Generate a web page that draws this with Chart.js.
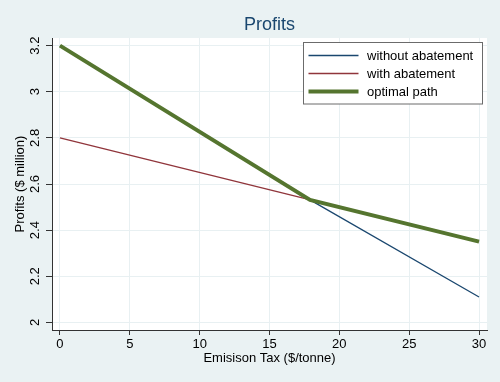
<!DOCTYPE html>
<html>
<head>
<meta charset="utf-8">
<script src="https://cdn.jsdelivr.net/npm/chart.js@4/dist/chart.umd.min.js"></script>
<style>
  html, body { margin: 0; padding: 0; background: #EAF2F3; }
  #wrap { width: 500px; height: 382px; }
</style>
</head>
<body>
<div id="wrap"><canvas id="c" width="500" height="382"></canvas></div>
<script>
// ---- data ----
const chartTitle = 'Profits';
const xTitle = 'Emisison Tax ($/tonne)';
const yTitle = 'Profits ($ million)';
const seriesNames = ['without abatement', 'with abatement', 'optimal path'];

const taxWithout = [0, 17.9, 30];
const profitWithout = [3.2, 2.531, 2.11];

const taxWith = [0, 30];
const profitWith = [2.8, 2.35];

const taxOptimal = [0, 17.9, 30];
const profitOptimal = [3.2, 2.531, 2.35];

const xTicks = [0, 5, 10, 15, 20, 25, 30];
const yTicks = [2, 2.2, 2.4, 2.6, 2.8, 3, 3.2];
const yTickLabels = ['2', '2.2', '2.4', '2.6', '2.8', '3', '3.2'];

// ---- styling ----
const FONT = '"Liberation Sans", Arial, Helvetica, sans-serif';
const BG = '#EAF2F3';
const GRID = '#E8F0F2';
const AXIS = '#333333';
const colors = ['#1a476f', '#90353b', '#55752f'];
const widths = [1.3, 1.3, 4];

function pts(xs, ys) { return xs.map((x, i) => ({ x: x, y: ys[i] })); }

const bgPlugin = {
  id: 'bg',
  beforeDraw(chart) {
    const { ctx, chartArea: a } = chart;
    ctx.save();
    ctx.fillStyle = BG;
    ctx.fillRect(0, 0, chart.width, chart.height);
    ctx.fillStyle = '#ffffff';
    ctx.fillRect(a.left, a.top, a.right - a.left, a.bottom - a.top);
    ctx.restore();
  }
};

const titlePlugin = {
  id: 'ownTitle',
  afterDraw(chart) {
    const { ctx, chartArea: a } = chart;
    ctx.save();
    ctx.font = '18px ' + FONT;
    ctx.fillStyle = '#1a476f';
    ctx.textAlign = 'center';
    ctx.textBaseline = 'middle';
    ctx.fillText(chartTitle, (a.left + a.right) / 2, 25);
    ctx.restore();
  }
};

const legendPlugin = {
  id: 'innerLegend',
  afterDatasetsDraw(chart) {
    const { ctx, chartArea: a } = chart;
    const right = a.right - 4.5, left = right - 179;
    const top = a.top + 4.5, h = 61.5;
    ctx.save();
    ctx.fillStyle = '#ffffff';
    ctx.fillRect(left, top, right - left, h);
    ctx.strokeStyle = '#6b6b6b';
    ctx.lineWidth = 1;
    ctx.strokeRect(left, top, right - left, h);
    ctx.font = '13px ' + FONT;
    ctx.textBaseline = 'middle';
    ctx.textAlign = 'left';
    chart.data.datasets.forEach((ds, i) => {
      const y = top + 13 + i * 18;
      ctx.strokeStyle = ds.borderColor;
      ctx.lineWidth = ds.borderWidth;
      ctx.beginPath();
      ctx.moveTo(left + 5, y);
      ctx.lineTo(left + 55, y);
      ctx.stroke();
      ctx.fillStyle = '#000000';
      ctx.fillText(ds.label, left + 63.5, y + 0.5);
    });
    ctx.restore();
  }
};

new Chart(document.getElementById('c'), {
  type: 'line',
  data: {
    datasets: [
      { label: seriesNames[0], data: pts(taxWithout, profitWithout), borderColor: colors[0], borderWidth: widths[0], order: 2 },
      { label: seriesNames[1], data: pts(taxWith, profitWith), borderColor: colors[1], borderWidth: widths[1], order: 1 },
      { label: seriesNames[2], data: pts(taxOptimal, profitOptimal), borderColor: colors[2], borderWidth: widths[2], order: 0 }
    ]
  },
  options: {
    responsive: false,
    animation: false,
    devicePixelRatio: 1,
    elements: { point: { radius: 0, hoverRadius: 0 }, line: { tension: 0, fill: false } },
    layout: { padding: { top: 38, right: 13, left: 0, bottom: 0 } },
    plugins: { legend: { display: false }, title: { display: false }, tooltip: { enabled: false } },
    scales: {
      x: {
        type: 'linear',
        min: -0.57,
        max: 30.57,
        afterBuildTicks(s) { s.ticks = xTicks.map(v => ({ value: v })); },
        afterFit(s) { s.height = 52; },
        grid: { color: GRID, lineWidth: 1, tickColor: AXIS, tickLength: 5, drawTicks: true },
        border: { color: AXIS, width: 1 },
        ticks: { color: '#000', font: { family: FONT, size: 13 }, padding: 2, maxRotation: 0, autoSkip: false },
        title: { display: true, text: xTitle, color: '#000', font: { family: FONT, size: 13 }, padding: { top: 0, bottom: 16 } }
      },
      y: {
        type: 'linear',
        min: 1.967,
        max: 3.233,
        afterBuildTicks(s) { s.ticks = yTicks.map(v => ({ value: v })); },
        afterFit(s) { s.width = 52; },
        grid: { color: GRID, lineWidth: 1, tickColor: AXIS, tickLength: 6, drawTicks: true },
        border: { color: AXIS, width: 1 },
        ticks: {
          color: '#000', font: { family: FONT, size: 13 }, padding: 2,
          minRotation: 90, maxRotation: 90, crossAlign: 'center', autoSkip: false,
          callback(v) { const i = yTicks.indexOf(v); return i >= 0 ? yTickLabels[i] : ''; }
        },
        title: { display: true, text: yTitle, color: '#000', font: { family: FONT, size: 13 }, padding: { top: 13, bottom: 0 } }
      }
    }
  },
  plugins: [bgPlugin, legendPlugin, titlePlugin]
});
</script>
</body>
</html>
